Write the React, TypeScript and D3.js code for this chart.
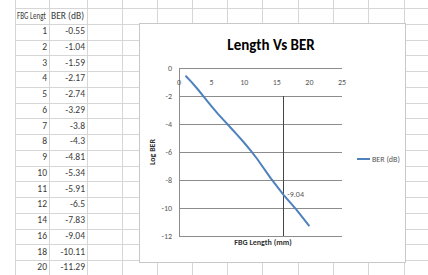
import { useEffect, useRef } from 'react'
import * as d3 from 'd3'

// sheet data
const lengths = [1, 2, 3, 4, 5, 6, 7, 8, 9, 10, 11, 12, 14, 16, 18, 20]
const berDb = [-0.55, -1.04, -1.59, -2.17, -2.74, -3.29, -3.8, -4.3, -4.81, -5.34, -5.91, -6.5, -7.83, -9.04, -10.11, -11.29]
const headers = ['FBG Lengt', 'BER (dB)']
const xTicks = [0, 5, 10, 15, 20, 25]
const yTicks = [0, -2, -4, -6, -8, -10, -12]
const labelledLength = 16

const W = 428
const H = 275
const FONT = "Carlito, 'Liberation Sans Narrow', 'DejaVu Sans Condensed', 'Liberation Sans', sans-serif"

const App = () => {
	const svgRef = useRef(null)

	useEffect(() => {
		const svg = d3.select(svgRef.current)
		svg.selectAll('*').remove()

		// spreadsheet grid
		const colEdges = [15, 49, 87, 122, 157, 192, 227, 262, 298, 333, 368, 404]
		const rowTop = 8
		const rowH = 15.75
		const nRows = 18
		const grid = svg.append('g').attr('stroke', '#d6d6d6').attr('stroke-width', 1)
		colEdges.forEach((x) => {
			grid.append('line').attr('x1', x + 0.5).attr('x2', x + 0.5).attr('y1', 0).attr('y2', H)
		})
		d3.range(nRows).forEach((i) => {
			const y = Math.round(rowTop + i * rowH) + 0.5
			grid.append('line').attr('x1', colEdges[0]).attr('x2', W).attr('y1', y).attr('y2', y)
		})

		const cells = svg.append('g').style('font-family', FONT).style('font-size', '9.5px').attr('fill', '#3a3a3a')
		// header A is squeezed so that it stays inside its column
		cells.append('text')
			.attr('transform', `translate(${colEdges[0] + 2},${rowTop + rowH / 2 + 3}) scale(0.74,1)`)
			.text(headers[0])
		cells.append('text').attr('x', colEdges[1] + 2).attr('y', rowTop + rowH / 2 + 3).text(headers[1])
		lengths.forEach((l, i) => {
			const cy = rowTop + (i + 1) * rowH + rowH / 2 + 2.5
			cells.append('text').attr('x', colEdges[1] - 2).attr('y', cy).attr('text-anchor', 'end').text(l)
			cells.append('text').attr('x', colEdges[2] - 2).attr('y', cy).attr('text-anchor', 'end').text(berDb[i])
		})

		// chart box
		const box = { x: 139, y: 23, w: 266, h: 239 }
		svg.append('rect')
			.attr('x', box.x + 0.5).attr('y', box.y + 0.5)
			.attr('width', box.w).attr('height', box.h)
			.attr('fill', '#fff').attr('stroke', '#c8c8c8')

		const plot = { left: 179, right: 342, top: 68, bottom: 236 }
		const x = d3.scaleLinear().domain([0, 25]).range([plot.left, plot.right])
		const y = d3.scaleLinear().domain([0, -12]).range([plot.top, plot.bottom])

		// gridlines
		svg.append('g')
			.selectAll('line')
			.data(yTicks)
			.enter()
			.append('line')
			.attr('x1', plot.left).attr('x2', plot.right)
			.attr('y1', (d) => Math.round(y(d)) + 0.5).attr('y2', (d) => Math.round(y(d)) + 0.5)
			.attr('stroke', '#8c8c8c')

		// y axis line
		svg.append('line')
			.attr('x1', plot.left + 0.5).attr('x2', plot.left + 0.5)
			.attr('y1', plot.top).attr('y2', Math.round(y(-12)) + 0.5)
			.attr('stroke', '#8c8c8c')

		// drop line at labelled point
		svg.append('line')
			.attr('x1', Math.round(x(labelledLength)) + 0.5).attr('x2', Math.round(x(labelledLength)) + 0.5)
			.attr('y1', y(-2)).attr('y2', y(-12))
			.attr('stroke', '#444')

		const tickStyle = (g) => g.style('font-family', FONT).style('font-size', '8px').attr('fill', '#595959')

		svg.append('g').call(tickStyle)
			.selectAll('text')
			.data(xTicks)
			.enter()
			.append('text')
			.attr('x', (d) => x(d))
			.attr('y', plot.top + 17)
			.attr('text-anchor', 'middle')
			.text((d) => d)

		svg.append('g').call(tickStyle)
			.selectAll('text')
			.data(yTicks)
			.enter()
			.append('text')
			.attr('x', plot.left - 7)
			.attr('y', (d) => y(d) + 3)
			.attr('text-anchor', 'end')
			.text((d) => d)

		// series line
		const line = d3.line()
			.x((d) => x(d[0]))
			.y((d) => y(d[1]))
		svg.append('path')
			.datum(lengths.map((l, i) => [l, berDb[i]]))
			.attr('d', line)
			.attr('fill', 'none')
			.attr('stroke', '#4f81bd')
			.attr('stroke-width', 2)

		// data label
		const li = lengths.indexOf(labelledLength)
		svg.append('text')
			.attr('x', x(labelledLength) + 4)
			.attr('y', y(berDb[li]) + 2)
			.call(tickStyle)
			.text(berDb[li])

		// titles
		svg.append('text')
			.attr('x', 271).attr('y', 50)
			.attr('text-anchor', 'middle')
			.style('font-family', FONT).style('font-size', '15px').style('font-weight', 'bold')
			.attr('fill', '#000')
			.text('Length Vs BER')

		svg.append('text')
			.attr('x', 263).attr('y', 245)
			.attr('text-anchor', 'middle')
			.style('font-family', FONT).style('font-size', '8px').style('font-weight', 'bold')
			.attr('fill', '#333')
			.text('FBG Length (mm)')

		svg.append('text')
			.attr('transform', `translate(155,${(plot.top + plot.bottom) / 2}) rotate(-90)`)
			.attr('text-anchor', 'middle')
			.style('font-family', FONT).style('font-size', '8px').style('font-weight', 'bold')
			.attr('fill', '#333')
			.text('Log BER')

		// legend
		svg.append('line')
			.attr('x1', 357).attr('x2', 370).attr('y1', 159).attr('y2', 159)
			.attr('stroke', '#4f81bd').attr('stroke-width', 2)
		svg.append('text')
			.attr('x', 372).attr('y', 161.5)
			.call(tickStyle)
			.text('BER (dB)')
	}, [])

	return (
		<svg ref={svgRef} width={W} height={H} style={{ position: 'absolute', left: 0, top: 0, background: '#fff' }}></svg>
	)
}

export default App
